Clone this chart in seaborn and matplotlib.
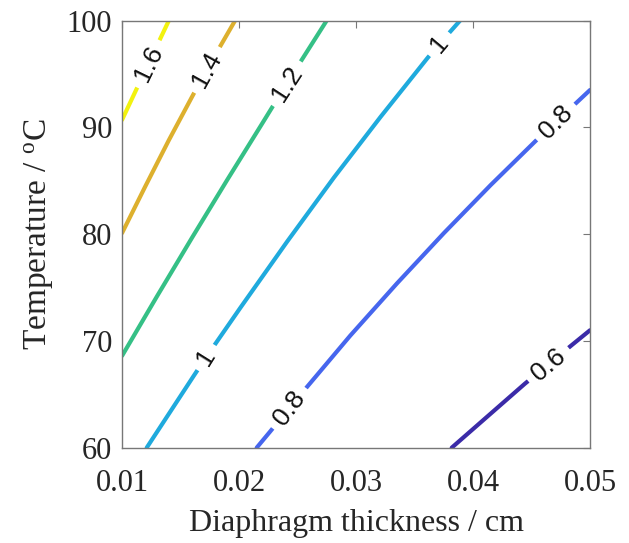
import numpy as np
import pandas as pd
import matplotlib
matplotlib.use("Agg")
import matplotlib.pyplot as plt
import seaborn as sns

# ---- data (contour lines of the field) ----
levels = [0.6, 0.8, 1.0, 1.2, 1.4, 1.6]
line_x = {
    0.6: [0.03818, 0.04444, 0.04644, 0.04843, 0.0500],
    0.8: [0.02151, 0.02265, 0.02430, 0.02551, 0.02951, 0.03351, 0.03751, 0.04151,
          0.04551, 0.04708, 0.0500],
    1.0: [0.01211, 0.01611, 0.01717, 0.02011, 0.02411, 0.02811, 0.03211, 0.03611,
          0.03711, 0.03889],
    1.2: [0.0100, 0.0130, 0.0160, 0.0190, 0.0220, 0.02408, 0.0250, 0.02749],
    1.4: [0.0100, 0.0120, 0.0140, 0.0160, 0.01724, 0.0180, 0.01966],
    1.6: [0.0100, 0.0112, 0.01225, 0.0124, 0.0140],
}
line_y = {
    0.6: [60.0, 66.0, 67.8, 69.6, 71.0],
    0.8: [60.0, 61.5, 63.7, 65.3, 70.5, 75.4, 80.1, 84.6, 88.9, 90.5, 93.5],
    1.0: [60.0, 66.7, 68.45, 73.1, 79.3, 85.3, 91.0, 96.5, 97.8, 100.0],
    1.2: [68.6, 74.2, 79.7, 85.1, 90.4, 94.1, 95.7, 100.0],
    1.4: [80.1, 84.5, 88.8, 92.9, 95.4, 96.85, 100.0],
    1.6: [90.7, 93.5, 95.95, 96.3, 100.0],
}
label_text = ["1.6", "1.4", "1.2", "1", "1", "0.8", "0.8", "0.6"]
label_x = [0.01225, 0.01724, 0.02408, 0.01717, 0.03711, 0.02430, 0.04708, 0.04644]
label_y = [95.95, 95.4, 94.1, 68.45, 97.8, 63.7, 90.5, 67.8]
x_ticks = [0.01, 0.02, 0.03, 0.04, 0.05]
x_ticklabels = ["0.01", "0.02", "0.03", "0.04", "0.05"]
y_ticks = [60, 70, 80, 90, 100]

# ---- styling ----
sns.set_style("white")
plt.rcParams["font.family"] = ["Liberation Serif", "DejaVu Serif"]
plt.rcParams["mathtext.fontset"] = "custom"
plt.rcParams["mathtext.rm"] = "Liberation Serif"

palette = {
    0.6: "#3B2BA8",
    0.8: "#4666EE",
    1.0: "#1FAADD",
    1.2: "#35C086",
    1.4: "#DDB02E",
    1.6: "#F2F20F",
}
rotations = [64, 61, 57, 58, 50, 53, 45, 40]

rows = []
for lv in levels:
    for i, (xx, yy) in enumerate(zip(line_x[lv], line_y[lv])):
        rows.append({"level": lv, "x": xx, "y": yy, "order": i})
df = pd.DataFrame(rows)

fig = plt.figure(figsize=(6.29, 5.43), dpi=100)
ax = fig.add_axes([0.194, 0.1755, 0.744, 0.7865])

sns.lineplot(data=df, x="x", y="y", hue="level", palette=palette,
             sort=False, estimator=None, units="level", linewidth=3.0,
             legend=False, ax=ax)

for t, lx, ly, r in zip(label_text, label_x, label_y, rotations):
    ax.text(lx, ly, t, rotation=r, rotation_mode="anchor", ha="center", va="center",
            fontsize=19, family=["Liberation Sans", "DejaVu Sans"], color="#111111",
            bbox=dict(boxstyle="square,pad=0.3", facecolor="white", edgecolor="none"),
            zorder=2.2, clip_on=True)

ax.set_xlim(0.01, 0.05)
ax.set_ylim(60, 100)
ax.set_xticks(x_ticks)
ax.set_xticklabels(x_ticklabels)
ax.set_yticks(y_ticks)
ax.tick_params(direction="in", length=5, width=0.8, color="#777777",
               labelsize=22, labelcolor="#262626", top=True, right=True)
ax.tick_params(axis="x", pad=15)
ax.tick_params(axis="y", pad=7)
for s in ax.spines.values():
    s.set_color("#777777")
    s.set_linewidth(1.0)
    s.set_zorder(3)
ax.set_xlabel("Diaphragm thickness / cm", fontsize=23, color="#262626", labelpad=8)
ax.set_ylabel("Temperature / $\\mathregular{^{o}}$C", fontsize=24, color="#262626", labelpad=8)

fig.savefig("out.png", dpi=100)
